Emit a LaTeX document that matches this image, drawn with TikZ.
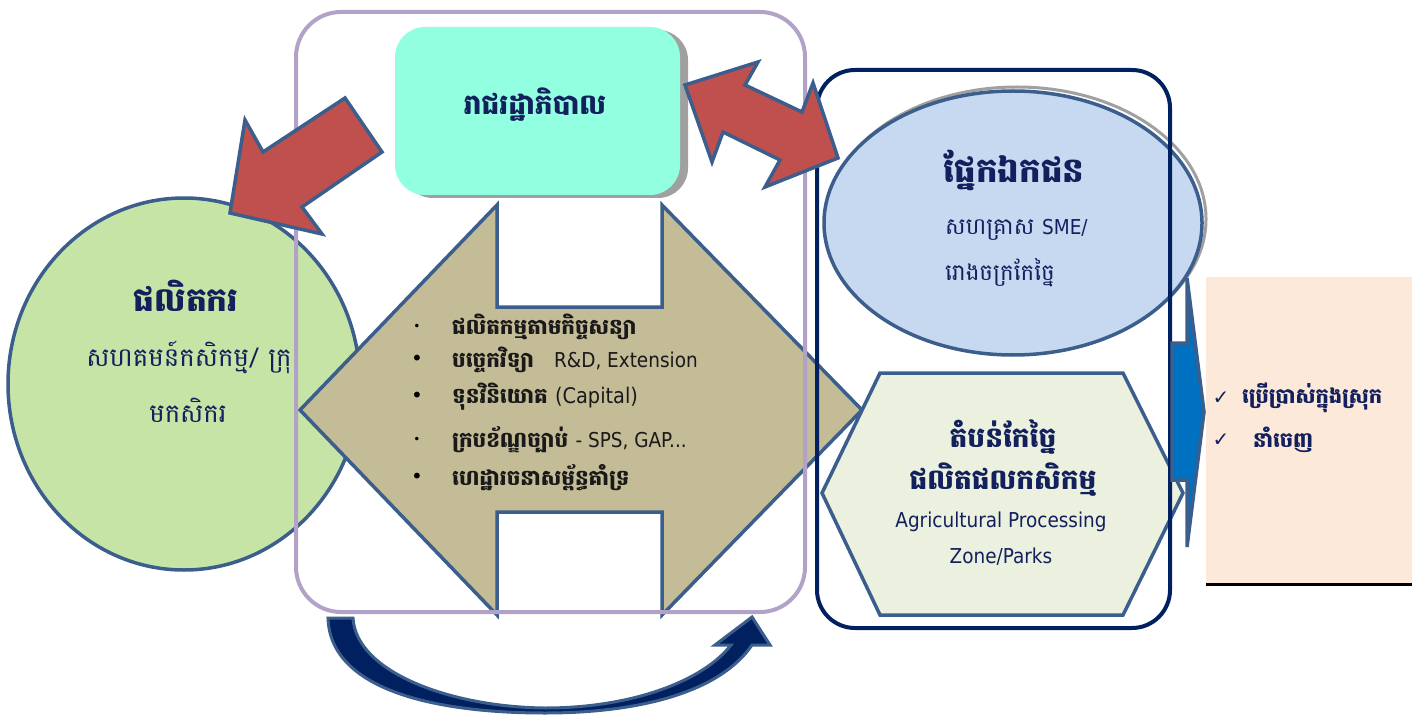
\documentclass[tikz,border=0pt]{standalone}
\usepackage{fontspec}
\setmainfont{DejaVu Sans Condensed}
\newfontfamily\kh[Script=Khmer]{Battambang}
\newfontfamily\lat{DejaVu Sans Condensed}
\newfontfamily\sym{DejaVu Sans}
\definecolor{edge}{HTML}{3B5E8C}
\definecolor{navy}{HTML}{002060}
\definecolor{lav}{HTML}{B3A2C7}
\definecolor{aqua}{HTML}{93FFE1}
\definecolor{greenf}{HTML}{C5E4A5}
\definecolor{tanf}{HTML}{C4BC97}
\definecolor{redf}{HTML}{C0504D}
\definecolor{lblue}{HTML}{C6D9F1}
\definecolor{hexf}{HTML}{EBF1DE}
\definecolor{bluef}{HTML}{0070C0}
\definecolor{peach}{HTML}{FDE9D9}
\definecolor{txt}{HTML}{13205E}
\definecolor{shadowg}{HTML}{A0A0A0}
\begin{document}
\begin{tikzpicture}[x=1pt,y=-1pt,
  shapeline/.style={draw=edge, line width=3.5pt, line join=miter},
  ktitle/.style={font=\kh\bfseries\fontsize{33}{36}\selectfont, text=txt, inner sep=0pt},
  ksub/.style={font=\kh\fontsize{26}{30}\selectfont, text=txt, inner sep=0pt},
  klat/.style={font=\lat\fontsize{20.5}{24}\selectfont, text=txt, inner sep=0pt},
  bul/.style={font=\kh\bfseries\fontsize{21.5}{26}\selectfont, text=black!90, inner sep=0pt, anchor=west},
  dot/.style={font=\sym\fontsize{20}{22}\selectfont, text=black, inner sep=0pt},
  smalldot/.style={font=\sym\fontsize{12}{14}\selectfont, text=black, inner sep=0pt},
  chk/.style={font=\sym\fontsize{20}{22}\selectfont, text=txt, inner sep=0pt},
  kout/.style={font=\kh\bfseries\fontsize{21}{26}\selectfont, text=txt, inner sep=0pt, anchor=west}]
\useasboundingbox (0,0) rectangle (1412,719);
% producer circle
\draw[shapeline, fill=greenf] (184,384) ellipse [x radius=176, y radius=186];
% tan double arrow
\draw[shapeline, fill=tanf] (300,410) -- (497,205) -- (497,307) -- (662,307) -- (662,205)
  -- (862,410) -- (662,615) -- (662,512) -- (497,512) -- (497,615) -- cycle;
% government box
\fill[shadowg, rounded corners=30pt] (403,30) rectangle (688,198);
\fill[aqua, rounded corners=30pt] (395,27) rectangle (680,195);
% purple frame
\draw[lav, line width=4pt, rounded corners=45pt] (296,12) rectangle (805,612);
% private sector ellipse
\draw[shadowg, line width=3pt] (1017,219) ellipse [x radius=189, y radius=132];
\draw[shapeline, fill=lblue] (1013,223) ellipse [x radius=189, y radius=132];
% processing zone hexagon
\draw[shapeline, fill=hexf] (880,373) -- (1123,373) -- (1183,493) -- (1123,615) -- (880,615) -- (822,493) -- cycle;
% navy frame
\draw[navy, line width=4pt, rounded corners=38pt] (817,70) rectangle (1170,628);
% blue arrow
\draw[shapeline, fill=bluef] (1172,343) -- (1187,343) -- (1187,278) -- (1204,412) -- (1187,547) -- (1187,480) -- (1172,480) -- cycle;
% output box
\fill[peach] (1206,277) rectangle (1412,584);
\draw[black, line width=3pt] (1206,584) -- (1412,584);
% red arrows
\draw[shapeline, fill=redf] (345,98) -- (382,152) -- (302,207) -- (322,234) -- (230,213) -- (245,120) -- (263,152) -- cycle;
\draw[shapeline, fill=redf] (685,85) -- (758,62) -- (745,85) -- (802,112) -- (813,83) -- (838,158)
  -- (765,187) -- (780,160) -- (723,132) -- (712,162) -- cycle;
% bottom curved arrow
\draw[draw=edge, line width=3pt, fill=navy] (328,618) -- (353,618)
  .. controls (356,672) and (450,707) .. (545,708)
  .. controls (634,708) and (704,680) .. (731,645) -- (715,645) -- (752,617) -- (770,645) -- (752,645)
  .. controls (720,692) and (640,713) .. (545,713)
  .. controls (430,713) and (330,688) .. (328,618) -- cycle;
% texts
\node[ktitle, font=\kh\bfseries\fontsize{28}{32}\selectfont] (gov) at (535,105) {រាជរដ្ឋាភិបាល};
\node[ktitle] (prod) at (186,296) {ផលិតករ};
\node[ksub] (prod2) at (189,357) {សហគមន៍កសិកម្ម/ ក្រុ};
\node[ksub] (prod3) at (188,410) {មកសិករ};
\node[ktitle, font=\kh\bfseries\fontsize{34}{38}\selectfont] (priv) at (1014,170) {ផ្នែកឯកជន};
\node[ksub, font=\kh\fontsize{23}{26}\selectfont, anchor=west] (priv2) at (945,230) {សហគ្រាស {\lat\fontsize{20.5}{24}\selectfont SME/}};
\node[ksub, font=\kh\fontsize{23}{26}\selectfont, anchor=west] (priv3) at (945,273) {រោងចក្រកែច្នៃ};
\node[ktitle, font=\kh\bfseries\fontsize{28}{32}\selectfont] (zone1) at (1003,437) {តំបន់កែច្នៃ};
\node[ktitle, font=\kh\bfseries\fontsize{28}{32}\selectfont] (zone2) at (1003,480) {ផលិតផលកសិកម្ម};
\node[klat] (zone3) at (1001,522) {Agricultural Processing};
\node[klat] (zone4) at (1001,557) {Zone/Parks};
% bullet list
\node[smalldot] (d1) at (417,327) {•};
\node[dot] (d2) at (417,360) {•};
\node[dot] (d3) at (417,397) {•};
\node[smalldot] (d4) at (417,440) {•};
\node[dot] (d5) at (417,478) {•};
\node[bul] (b1) at (452,327) {ផលិតកម្មតាមកិច្ចសន្យា};
\node[bul] (b2) at (452,360) {បច្ចេកវិទ្យា\hspace{20pt}{\lat\mdseries\fontsize{20.5}{24}\selectfont R\&D, Extension}};
\node[bul] (b3) at (452,397) {ទុនវិនិយោគ {\lat\mdseries\fontsize{21.5}{24}\selectfont (Capital)}};
\node[bul] (b4) at (452,440) {ក្របខ័ណ្ឌច្បាប់ {\lat\mdseries\fontsize{20.5}{24}\selectfont - SPS, GAP...}};
\node[bul] (b5) at (452,478) {ហេដ្ឋារចនាសម្ព័ន្ធគាំទ្រ};
% outputs
\node[chk] (c1) at (1221,398) {✓};
\node[kout] (o1) at (1242,398) {ប្រើប្រាស់ក្នុងស្រុក};
\node[chk] (c2) at (1221,440) {✓};
\node[kout] (o2) at (1253,440) {នាំចេញ};
\end{tikzpicture}
\end{document}
